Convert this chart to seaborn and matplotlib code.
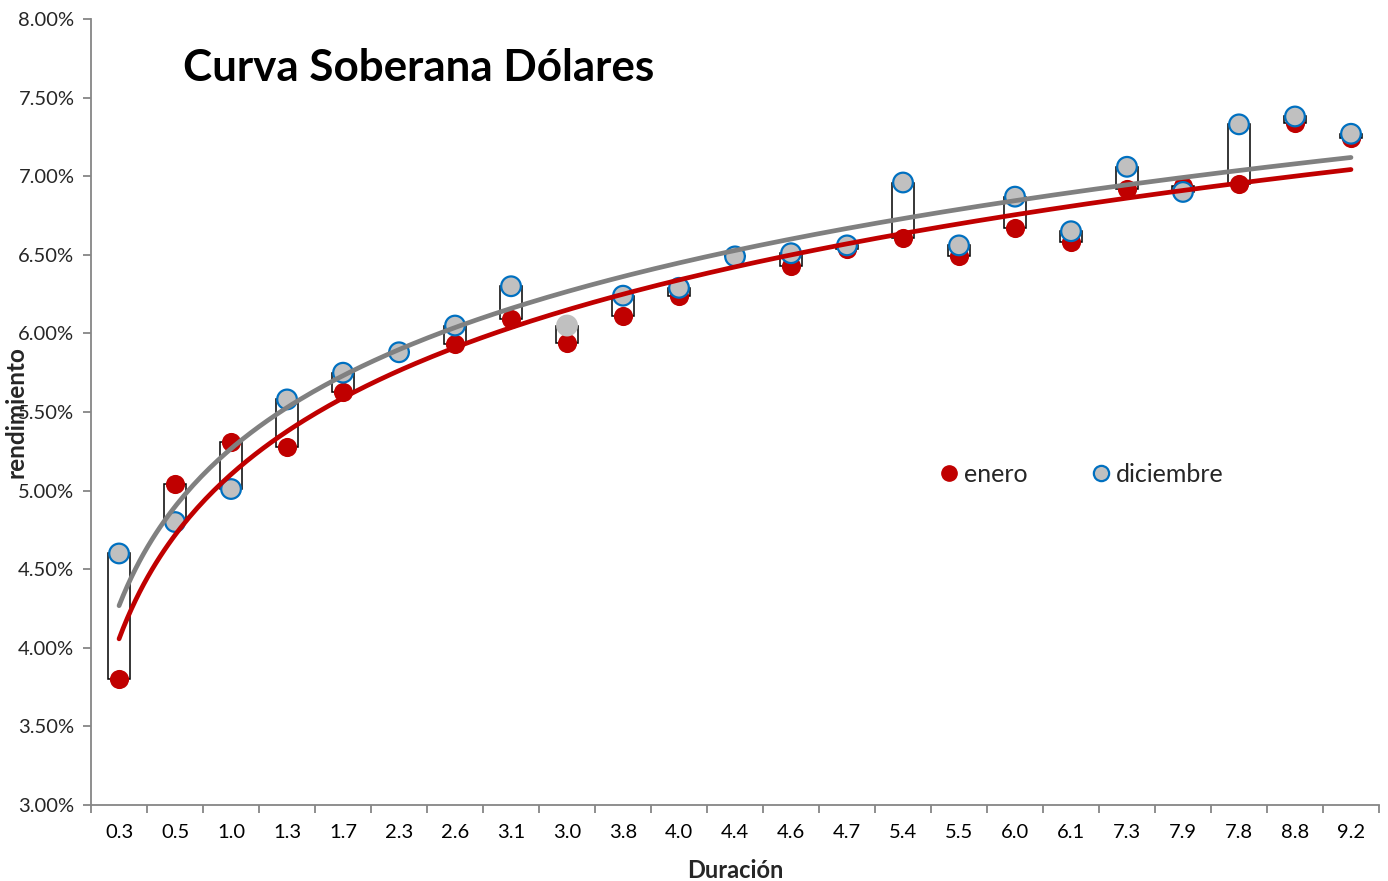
import numpy as np
import pandas as pd
import matplotlib
matplotlib.use("Agg")
import matplotlib.pyplot as plt
from matplotlib.ticker import FuncFormatter, FixedLocator
import seaborn as sns

# Duration buckets (category labels, in the order they are listed)
duracion = ["0.3", "0.5", "1.0", "1.3", "1.7", "2.3", "2.6", "3.1", "3.0", "3.8",
            "4.0", "4.4", "4.6", "4.7", "5.4", "5.5", "6.0", "6.1", "7.3", "7.9",
            "7.8", "8.8", "9.2"]

# Yields (%)
enero = [3.80, 5.04, 5.31, 5.28, 5.63, 5.88, 5.93, 6.09, 5.94, 6.11,
         6.24, 6.49, 6.43, 6.54, 6.61, 6.49, 6.67, 6.58, 6.92, 6.94,
         6.95, 7.34, 7.24]
diciembre = [4.60, 4.80, 5.01, 5.58, 5.75, 5.88, 6.05, 6.30, 6.05, 6.24,
             6.29, 6.49, 6.51, 6.56, 6.96, 6.56, 6.87, 6.65, 7.06, 6.90,
             7.33, 7.38, 7.27]

y_ticks = [3.0, 3.5, 4.0, 4.5, 5.0, 5.5, 6.0, 6.5, 7.0, 7.5, 8.0]

RED = "#C00000"
GRAY_LINE = "#808080"
GRAY_FACE = "#C0C0C0"
BLUE_EDGE = "#0070C0"

sns.set_theme(style="white")
plt.rcParams["font.family"] = ["Lato", "DejaVu Sans"]

df = pd.DataFrame({"duracion": duracion, "enero": enero, "diciembre": diciembre})
df["pos"] = np.arange(len(df))

fig = plt.figure(figsize=(13.88, 8.81), dpi=100)
ax = fig.add_axes([0.0656, 0.0863, 0.9279, 0.8921])

# Up/down bars between the two months
low = np.minimum(df["enero"], df["diciembre"])
high = np.maximum(df["enero"], df["diciembre"])
ax.bar(df["pos"], high - low, bottom=low, width=0.39, color="white",
       edgecolor="black", linewidth=1.1, zorder=1)

# Markers
sns.scatterplot(data=df, x="pos", y="enero", ax=ax, color=RED, s=190,
                edgecolor=RED, linewidth=0, zorder=3, label="enero", legend=False)
edge_cols = [BLUE_EDGE if d != "3.0" else GRAY_FACE for d in duracion]
ax.scatter(df["pos"], df["diciembre"], s=200, color=GRAY_FACE,
           edgecolors=edge_cols, linewidths=1.6, zorder=4)

# Logarithmic trendlines fitted on the category index (1..n)
idx = df["pos"].to_numpy() + 1.0
xs = np.linspace(1, len(df), 300)
trend_rows = []
for name, col in [("enero", "enero"), ("diciembre", "diciembre")]:
    b, a = np.polyfit(np.log(idx), df[col].to_numpy(), 1)
    trend_rows.append(pd.DataFrame({"x": xs - 1, "y": a + b * np.log(xs), "serie": name}))
trend = pd.concat(trend_rows, ignore_index=True)
sns.lineplot(data=trend, x="x", y="y", hue="serie",
             palette={"enero": RED, "diciembre": GRAY_LINE},
             linewidth=3.4, ax=ax, legend=False, zorder=5)
for ln in ax.lines:
    ln.set_solid_capstyle("round")
    ln.set_zorder(5)

# Axes
ax.set_xlim(-0.5, len(df) - 0.5)
ax.set_ylim(3.0, 8.0)
ax.yaxis.set_major_locator(FixedLocator(y_ticks))
ax.yaxis.set_major_formatter(FuncFormatter(lambda v, p: f"{v:.2f}%"))
ax.set_xticks(df["pos"])
ax.set_xticklabels(duracion)
ax.xaxis.set_minor_locator(FixedLocator(np.arange(-0.5, len(df), 1.0)))
ax.tick_params(axis="x", which="major", length=0, pad=14, labelsize=14.5, colors="black")
ax.tick_params(axis="x", which="minor", length=6, width=1.3, color="#868686", bottom=True)
ax.tick_params(axis="y", length=6, width=1.3, color="#868686", labelsize=14.5,
               left=True, pad=6)
for side in ["top", "right"]:
    ax.spines[side].set_visible(False)
for side in ["left", "bottom"]:
    ax.spines[side].set_color("#868686")
    ax.spines[side].set_linewidth(1.3)

ax.set_xlabel("Duración", fontsize=17, fontweight="bold", labelpad=13)
ax.set_ylabel("rendimiento", fontsize=17.5, fontweight="bold")
ax.yaxis.set_label_coords(-0.049, 0.5)

ax.text(0.0714, 0.9377, "Curva Soberana Dólares", transform=ax.transAxes,
        fontsize=31.7, fontweight="bold", ha="left", va="center", color="black")

# Legend
h1 = plt.Line2D([], [], marker="o", linestyle="none", markersize=11,
                markerfacecolor=RED, markeredgecolor=RED)
h2 = plt.Line2D([], [], marker="o", linestyle="none", markersize=11,
                markerfacecolor=GRAY_FACE, markeredgecolor=BLUE_EDGE, markeredgewidth=1.6)
ax.legend([h1, h2], ["enero", "diciembre"], ncol=2, frameon=False,
          loc="center", bbox_to_anchor=(0.768, 0.421), fontsize=18,
          handletextpad=0.1, columnspacing=2.4, handlelength=1.0)

fig.savefig("out.png", dpi=100, facecolor="white")
